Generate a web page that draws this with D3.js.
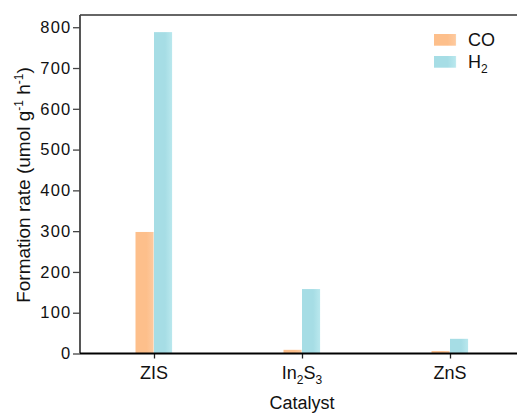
<!DOCTYPE html>
<html><head><meta charset="utf-8">
<script src="https://cdn.jsdelivr.net/npm/d3@7"></script>
<style>body{margin:0;background:#fff}text{font-family:"Liberation Sans",Arial,sans-serif}</style>
</head><body><svg id="c" width="517" height="414"></svg>
<script>
const categories = ["ZIS", "In2S3", "ZnS"];
const coValues = [298, 9, 6];
const h2Values = [788, 158, 36];
const yTicks = [0, 100, 200, 300, 400, 500, 600, 700, 800];
const seriesNames = ["CO", "H2"];

const svg = d3.select("#c");
const L = 80, R = 517, T = 15, B = 353.5;
const step = 148;
const x = d3.scalePoint().domain(categories).range([L + step/2, L + step/2 + step*(categories.length-1)]);
const y = d3.scaleLinear().domain([0, 830]).range([B, T]);
const bw = 18.5;
const FS = 18;

const defs = svg.append("defs");
function grad(id, c1, c2) {
  const g = defs.append("linearGradient").attr("id", id).attr("x1","0").attr("x2","1").attr("y1","0").attr("y2","0");
  g.append("stop").attr("offset","0").attr("stop-color", c1);
  g.append("stop").attr("offset","0.6").attr("stop-color", c1);
  g.append("stop").attr("offset","0.95").attr("stop-color", c2);
  g.append("stop").attr("offset","1").attr("stop-color", "#f2fbfc");
}
grad("gco", "#fdbf8b", "#fdc99e");
grad("gh2", "#a6dde5", "#b8e7ed");

svg.append("g").selectAll("rect").data(categories).join("rect")
  .attr("x", d => x(d) - bw).attr("width", bw)
  .attr("y", (d,i) => y(coValues[i])).attr("height", (d,i) => B - y(coValues[i]))
  .attr("fill", "url(#gco)");
svg.append("g").selectAll("rect").data(categories).join("rect")
  .attr("x", d => x(d)).attr("width", bw)
  .attr("y", (d,i) => y(h2Values[i])).attr("height", (d,i) => B - y(h2Values[i]))
  .attr("fill", "url(#gh2)");

// top border
svg.append("line").attr("x1", L).attr("x2", R).attr("y1", T).attr("y2", T).attr("stroke", "#333").attr("stroke-width", 1.3);

// y axis
const ya = svg.append("g").attr("transform", `translate(${L},0)`)
  .call(d3.axisLeft(y).tickValues(yTicks).tickSize(7).tickPadding(1.5));
ya.select(".domain").remove();
ya.append("line").attr("x1",0).attr("x2",0).attr("y1",T).attr("y2",B).attr("stroke","#444").attr("stroke-width",1.8);
ya.selectAll(".tick line").attr("stroke","#444").attr("stroke-width",1.3);
ya.selectAll(".tick text").attr("font-size", 16.5).attr("letter-spacing", 1.2).attr("fill","#111")
  .attr("font-family",'"Liberation Sans",Arial,sans-serif');

// x axis
const xa = svg.append("g").attr("transform", `translate(0,${B})`)
  .call(d3.axisBottom(x).tickSize(5).tickFormat(""));
xa.select(".domain").remove();
xa.append("line").attr("x1",L).attr("x2",R).attr("y1",0).attr("y2",0).attr("stroke","#000").attr("stroke-width",1.8);
xa.selectAll(".tick line").attr("stroke","#222").attr("stroke-width",1.3);

function subLabel(sel, s, subSize) {
  const parts = s.match(/[A-Za-z]+|\d+/g);
  let down = false;
  parts.forEach(p => {
    if (/^\d+$/.test(p)) {
      sel.append("tspan").attr("font-size", subSize).attr("dy", 5).text(p);
      down = true;
    } else {
      const t = sel.append("tspan").text(p);
      if (down) { t.attr("dy", -5); down = false; }
    }
  });
}
categories.forEach(c => {
  const t = svg.append("text").attr("x", x(c)).attr("y", 379).attr("text-anchor","middle").attr("font-size",FS).attr("fill","#111");
  subLabel(t, c, 12);
});

svg.append("text").attr("x", x("In2S3")).attr("y", 409).attr("text-anchor","middle").attr("font-size",FS).attr("fill","#111").text("Catalyst");

// y title
const yt = svg.append("text").attr("transform", `translate(30,185) rotate(-90)`).attr("text-anchor","middle").attr("font-size",19).attr("fill","#111");
yt.append("tspan").text("Formation rate (umol g");
yt.append("tspan").attr("font-size",12).attr("dy",-7).text("-1");
yt.append("tspan").attr("dy",7).text(" h");
yt.append("tspan").attr("font-size",12).attr("dy",-7).text("-1");
yt.append("tspan").attr("dy",7).text(")");

// legend
const lg = svg.append("g");
seriesNames.forEach((n,i) => {
  lg.append("rect").attr("x",434).attr("y",34 + i*22).attr("width",22.5).attr("height",11.7).attr("fill", i===0 ? "url(#gco)" : "url(#gh2)");
  const t = lg.append("text").attr("x",468).attr("y",46 + i*22).attr("font-size",FS).attr("fill","#111");
  subLabel(t, n, 12);
});
</script></body></html>
